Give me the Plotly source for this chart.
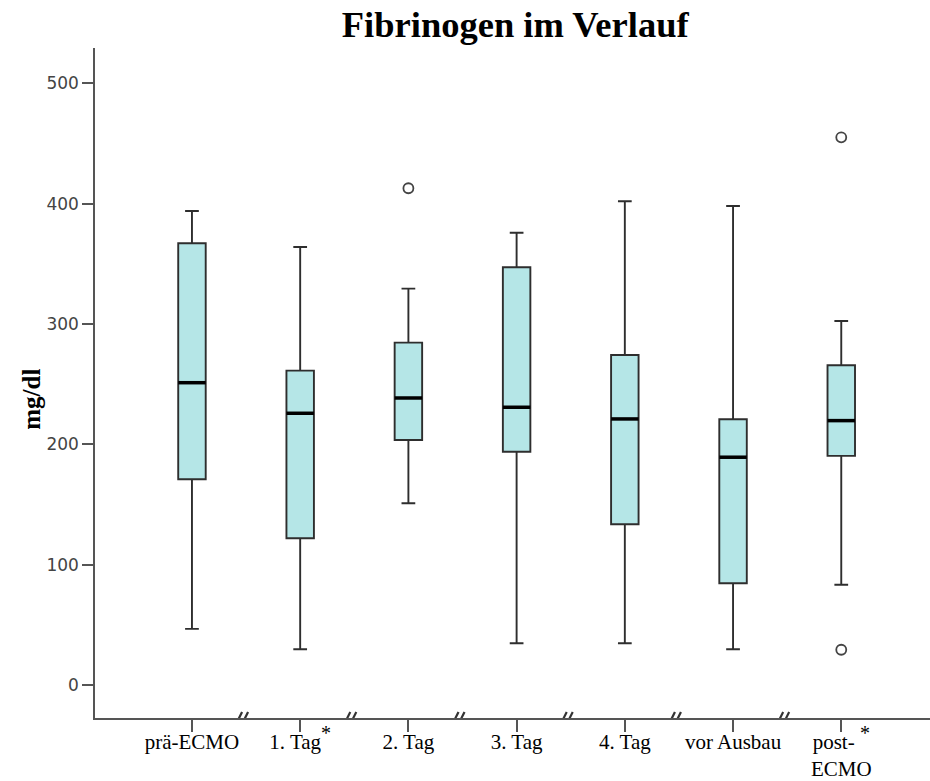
import plotly.graph_objects as go

# ---- data ----
categories = ["prä-ECMO", "1. Tag", "2. Tag", "3. Tag", "4. Tag", "vor Ausbau", "post-ECMO"]
tick_labels = ["prä-ECMO",
               "1. Tag<sup><span style='font-size:20px'>*</span></sup>",
               "2. Tag", "3. Tag", "4. Tag", "vor Ausbau",
               "post- <sup><span style='font-size:20px'>*</span></sup><br>ECMO"]
lower_whisker = [46.8, 29.9, 151.2, 34.9, 34.9, 29.9, 83.5]
q1 = [171.1, 122.1, 203.7, 194.0, 133.7, 84.7, 190.5]
median = [251.3, 225.9, 238.6, 230.9, 221.2, 189.4, 219.8]
q3 = [367.1, 261.3, 284.6, 347.2, 274.3, 220.9, 265.8]
upper_whisker = [393.9, 364.0, 329.4, 375.9, 402.0, 398.1, 302.5]
outlier_cat = ["2. Tag", "post-ECMO", "post-ECMO"]
outlier_val = [412.8, 455.1, 29.5]
y_ticks = [0, 100, 200, 300, 400, 500]

pos = list(range(len(categories)))
cat_pos = {c: i for i, c in enumerate(categories)}
BOX_W = 0.254
FILL = "#b5e6e7"
EDGE = "#2e2e2e"
SERIF = "Liberation Serif, Times New Roman, serif"

fig = go.Figure()

fig.add_trace(go.Box(
    x=pos, q1=q1, median=median, q3=q3,
    lowerfence=lower_whisker, upperfence=upper_whisker,
    width=BOX_W, whiskerwidth=0.5,
    fillcolor=FILL, line=dict(color=EDGE, width=1.9),
    boxpoints=False, showlegend=False, hoverinfo="skip",
))

# thick black median lines
mx, my = [], []
for p, m in zip(pos, median):
    mx += [p - BOX_W / 2, p + BOX_W / 2, None]
    my += [m, m, None]
fig.add_trace(go.Scatter(x=mx, y=my, mode="lines",
                         line=dict(color="black", width=3.5),
                         showlegend=False, hoverinfo="skip"))

# outliers
fig.add_trace(go.Scatter(
    x=[cat_pos[c] for c in outlier_cat], y=outlier_val, mode="markers",
    marker=dict(symbol="circle-open", size=10, color="#444444", line=dict(width=1.8)),
    showlegend=False, hoverinfo="skip"))

Y_MIN, Y_MAX = -27.2, 529.3

# axis break marks "//" between categories
shapes = []
for i in range(len(categories) - 1):
    for dx in (-7, -1):
        shapes.append(dict(
            type="line", xref="x", yref="y",
            xsizemode="pixel", xanchor=i + 0.5, x0=dx - 3, x1=dx + 3,
            ysizemode="pixel", yanchor=Y_MIN, y0=-6, y1=6,
            line=dict(color="#333333", width=2.2)))

fig.update_layout(
    width=930, height=781,
    margin=dict(l=95, r=0, t=48, b=63, autoexpand=False),
    paper_bgcolor="white", plot_bgcolor="white",
    title=dict(text="<b>Fibrinogen im Verlauf</b>", x=0.554, xref="container",
               y=1 - 24 / 781, yref="container", xanchor="center", yanchor="middle",
               font=dict(family=SERIF, size=36.5, color="black")),
    shapes=shapes,
    annotations=[dict(text="<b>mg/dl</b>", xref="paper", yref="paper", x=0, y=0.475,
                      xshift=-63, xanchor="center", yanchor="middle", textangle=-90,
                      showarrow=False,
                      font=dict(family=SERIF, size=25, color="black"))],
)

fig.update_xaxes(
    range=[-0.896, 6.82], tickmode="array", tickvals=pos, ticktext=tick_labels,
    automargin=False, ticklabelstandoff=-8,
    showgrid=False, zeroline=False, showline=True, linecolor="#555555", linewidth=1.5,
    ticks="outside", ticklen=12, tickwidth=1.5, tickcolor="#555555",
    tickfont=dict(family=SERIF, size=21, color="black"),
)
fig.update_yaxes(
    range=[Y_MIN, Y_MAX], tickmode="array", tickvals=y_ticks, automargin=False,
    showgrid=False, zeroline=False, showline=True, linecolor="#555555", linewidth=1.5,
    ticks="outside", ticklen=11, tickwidth=1.5, tickcolor="#555555",
    tickfont=dict(family="DejaVu Sans, Verdana, sans-serif", size=17, color="#444444"),
)

fig.write_html("out.html")
